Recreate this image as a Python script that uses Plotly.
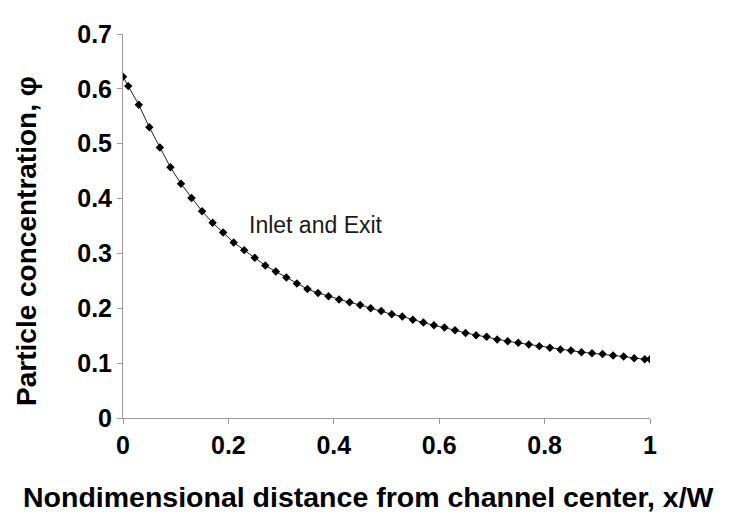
import plotly.graph_objects as go

# x/W positions of the data points
x_vals = [0.0, 0.01, 0.03, 0.05, 0.07, 0.09, 0.11, 0.13, 0.15, 0.17, 0.19,
          0.21, 0.23, 0.25, 0.27, 0.29, 0.31, 0.33, 0.35, 0.37, 0.39,
          0.41, 0.43, 0.45, 0.47, 0.49, 0.51, 0.53, 0.55, 0.57, 0.59,
          0.61, 0.63, 0.65, 0.67, 0.69, 0.71, 0.73, 0.75, 0.77, 0.79,
          0.81, 0.83, 0.85, 0.87, 0.89, 0.91, 0.93, 0.95, 0.97, 0.99, 1.0]
# particle concentration phi
phi_vals = [0.622, 0.605, 0.571, 0.530, 0.493, 0.457, 0.427, 0.401, 0.377, 0.356, 0.338,
            0.320, 0.306, 0.292, 0.278, 0.267, 0.256, 0.245, 0.235, 0.228, 0.222,
            0.216, 0.211, 0.206, 0.200, 0.195, 0.189, 0.185, 0.179, 0.174, 0.169,
            0.165, 0.160, 0.155, 0.151, 0.148, 0.143, 0.140, 0.137, 0.134, 0.131,
            0.128, 0.125, 0.123, 0.120, 0.118, 0.1165, 0.114, 0.112, 0.109, 0.107, 0.107]

x_ticks = [0, 0.2, 0.4, 0.6, 0.8, 1]
x_tick_text = ["0", "0.2", "0.4", "0.6", "0.8", "1"]
y_ticks = [0, 0.1, 0.2, 0.3, 0.4, 0.5, 0.6, 0.7]
y_tick_text = ["0", "0.1", "0.2", "0.3", "0.4", "0.5", "0.6", "0.7"]

FONT = "Liberation Sans, Arial, sans-serif"

fig = go.Figure()
fig.add_trace(go.Scatter(
    x=x_vals, y=phi_vals, mode="lines+markers",
    line=dict(color="#222222", width=1),
    marker=dict(symbol="diamond", size=6.5, color="black"),
    showlegend=False, hoverinfo="skip",
))

axis_common = dict(
    showgrid=False, zeroline=False, showline=True, linecolor="#9a9a9a", linewidth=1,
    ticks="outside", ticklen=5, tickcolor="#9a9a9a", tickwidth=1,
    tickfont=dict(family=FONT, size=25, color="black", weight="bold"),
)
fig.update_xaxes(range=[0, 1], tickvals=x_ticks, ticktext=x_tick_text, **axis_common)
fig.update_yaxes(range=[0, 0.7], tickvals=y_ticks, ticktext=y_tick_text, **axis_common)

# page body has an 8px margin: figure occupies (8..736, 8..514)
fig.add_annotation(
    text="Nondimensional distance from channel center, x/W",
    xref="paper", yref="paper", x=(369 - 122.7) / 527.8, y=(418.3 - 499) / 394.3,
    xanchor="center", yanchor="middle", showarrow=False,
    font=dict(family=FONT, size=28.5, color="black", weight="bold"),
)
fig.add_annotation(
    text="Particle concentration, φ",
    xref="paper", yref="paper", x=(26 - 122.7) / 527.8, y=(418.3 - 236) / 394.3,
    xanchor="center", yanchor="middle", showarrow=False, textangle=-90,
    font=dict(family=FONT, size=28, color="black", weight="bold"),
)
fig.add_annotation(
    text="Inlet and Exit",
    xref="x", yref="y", x=0.235, y=0.352,
    xanchor="left", yanchor="middle", showarrow=False,
    font=dict(family=FONT, size=23, color="#1a1a1a"),
)

fig.update_layout(
    width=728, height=506,
    margin=dict(l=114.7, r=85.5, t=16, b=95.7),
    plot_bgcolor="white", paper_bgcolor="white",
)

fig.write_html("out.html")
